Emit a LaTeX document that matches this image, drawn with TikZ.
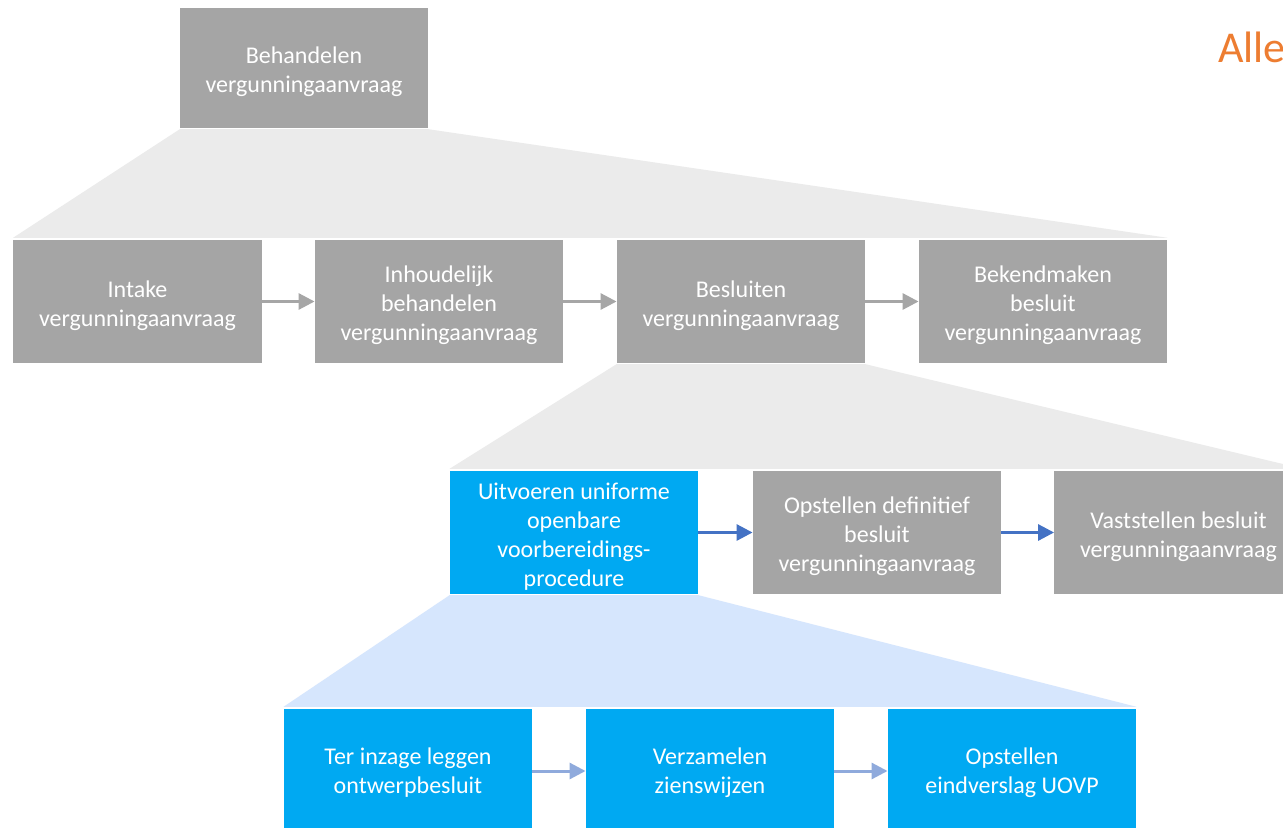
\documentclass[tikz,border=0pt]{standalone}
\usepackage{fontspec}
\setmainfont{Carlito}
\usetikzlibrary{arrows.meta}
\definecolor{boxgray}{HTML}{A5A5A5}
\definecolor{trapgray}{HTML}{EBEBEB}
\definecolor{boxblue}{HTML}{00A9F2}
\definecolor{traplblue}{HTML}{D6E6FD}
\definecolor{arrgray}{HTML}{A6A6A6}
\definecolor{arrdblue}{HTML}{4472C4}
\definecolor{arrlblue}{HTML}{8FAADC}
\definecolor{orangetxt}{HTML}{ED7D31}
\tikzset{
  procbox/.style={rectangle, inner sep=0pt, minimum width=248.5pt},
  graybox/.style={procbox, fill=boxgray},
  bluebox/.style={procbox, fill=boxblue},
  boxtext/.style={inner sep=0pt, text=white, align=center, yshift=-4pt,
    font=\fontsize{24}{29}\selectfont},
  flowarrow/.style={line width=3pt, -{Triangle[length=16pt,width=16pt]}},
}
\begin{document}
\begin{tikzpicture}[x=1pt,y=-1pt]
\clip (0,0) rectangle (1283,829);
\fill[white] (0,0) rectangle (1283,829);

% nodes
\node[graybox, minimum height=120pt, minimum width=248pt,
  label={[boxtext]center:{Behandelen\\vergunningaanvraag}}] (top) at (304,68) {};

\node[graybox, minimum height=123pt,
  label={[boxtext]center:{Intake\\vergunningaanvraag}}] (ra) at (137.5,301.5) {};
\node[graybox, minimum height=123pt,
  label={[boxtext]center:{Inhoudelijk\\behandelen\\vergunningaanvraag}}] (rb) at (439,301.5) {};
\node[graybox, minimum height=123pt,
  label={[boxtext]center:{Besluiten\\vergunningaanvraag}}] (rc) at (741,301.5) {};
\node[graybox, minimum height=123pt,
  label={[boxtext]center:{Bekendmaken\\besluit\\vergunningaanvraag}}] (rd) at (1043,301.5) {};

\node[bluebox, minimum height=123pt,
  label={[boxtext]center:{Uitvoeren uniforme\\openbare\\voorbereidings-\\procedure}}] (sa) at (574,532.5) {};
\node[graybox, minimum height=123pt,
  label={[boxtext]center:{Opstellen definitief\\besluit\\vergunningaanvraag}}] (sb) at (877,532.5) {};
\node[graybox, minimum height=123pt,
  label={[boxtext]center:{Vaststellen besluit\\vergunningaanvraag}}] (sc) at (1178.5,532.5) {};

\node[bluebox, minimum height=119pt,
  label={[boxtext]center:{Ter inzage leggen\\ontwerpbesluit}}] (ta) at (408,768.5) {};
\node[bluebox, minimum height=119pt,
  label={[boxtext]center:{Verzamelen\\zienswijzen}}] (tb) at (710,768.5) {};
\node[bluebox, minimum height=119pt,
  label={[boxtext]center:{Opstellen\\eindverslag UOVP}}] (tc) at (1012,768.5) {};

% trapezoids
\fill[trapgray] ([yshift=-1pt]top.south west) -- ([yshift=-1pt]top.south east)
  -- ([yshift=2pt]rd.north east) -- ([yshift=2pt]ra.north west) -- cycle;
\fill[trapgray] ([yshift=-1pt]rc.south west) -- ([yshift=-1pt]rc.south east)
  -- ([yshift=2pt]sc.north east) -- ([yshift=2pt]sa.north west) -- cycle;
\fill[traplblue] ([yshift=-1pt]sa.south west) -- ([yshift=-1pt]sa.south east)
  -- ([yshift=2pt]tc.north east) -- ([yshift=2pt]ta.north west) -- cycle;

% arrows
\draw[flowarrow, arrgray] (ra.east) -- (rb.west);
\draw[flowarrow, arrgray] (rb.east) -- (rc.west);
\draw[flowarrow, arrgray] (rc.east) -- (rd.west);

\draw[flowarrow, arrdblue] (sa.east) -- (sb.west);
\draw[flowarrow, arrdblue] (sb.east) -- (sc.west);

\draw[flowarrow, arrlblue] ([yshift=-2.5pt]ta.east) -- ([yshift=-2.5pt]tb.west);
\draw[flowarrow, arrlblue] ([yshift=-2.5pt]tb.east) -- ([yshift=-2.5pt]tc.west);

% title
\node[anchor=base west, inner sep=0pt, text=orangetxt, font=\fontsize{44}{53}\selectfont] (title) at (1218,63) {Alle};
\end{tikzpicture}
\end{document}
